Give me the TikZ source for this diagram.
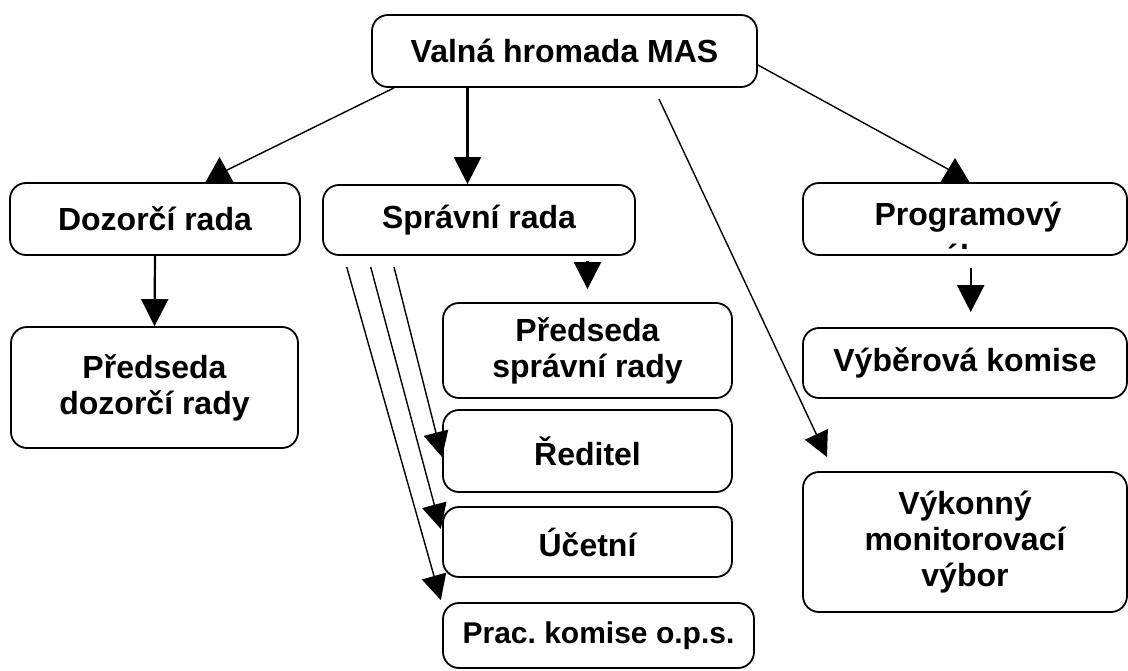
\documentclass[tikz,border=0pt]{standalone}
\usepackage{fontspec}
\setmainfont{Liberation Sans}
\usetikzlibrary{arrows.meta,calc}
\frenchspacing
\begin{document}
\begin{tikzpicture}[x=1pt,y=-1pt,
  box/.style={draw=black, line width=1.8pt, rounded corners=16pt, fill=white,
    align=center, inner sep=0pt, font=\fontsize{32}{36}\selectfont\bfseries},
  small/.style={font=\fontsize{30}{33}\selectfont\bfseries},
  thinline/.style={draw=black, line width=1.4pt},
  darr/.style={draw=black, line width=1.4pt, -{Triangle[length=25pt,width=25pt]}},
  varr/.style={draw=black, line width=2.2pt, -{Triangle[length=27pt,width=27pt]}},
  headfill/.style={fill=black}]
\fill[white] (0,0) rectangle (1128,671);
\useasboundingbox (0,0) rectangle (1128,671);

% boxes
\node[box, minimum width=385pt, minimum height=72pt] (valna) at (564.5,51) {Valná hromada MAS};
\node[box, minimum width=290pt, minimum height=72pt] (doz) at (155,219) {Dozorčí rada};
\node[box, minimum width=312pt, minimum height=70pt] (sprav) at (479,220) {Správní rada};
\node[box, minimum width=324pt, minimum height=72pt] (prog) at (965,219) {};
\begin{scope}
  \clip (806,186) rectangle (1124,249);
  \node[anchor=base, inner sep=0pt, font=\fontsize{32}{42}\selectfont\bfseries] (progtxt) at (968,226)
    {\parbox[t]{310pt}{\centering Programový\\výbor}};
\end{scope}
\node[box, minimum width=287pt, minimum height=121pt] (pdoz) at (154.5,387.5) {Předseda\\dozorčí rady};
\node[box, minimum width=289pt, minimum height=95pt] (psprav) at (587.5,350.5) {Předseda\\správní rady};
\node[box, minimum width=289pt, minimum height=82pt] (red) at (587.5,451) {Ředitel};
\node[box, minimum width=289pt, minimum height=70pt] (ucet) at (587.5,542) {Účetní};
\node[box, small, minimum width=311pt, minimum height=65pt] (prac) at (598.5,635.5) {Prac. komise o.p.s.};
\node[box, minimum width=324pt, minimum height=70pt] (vyber) at (965,363) {Výběrová komise};
\node[box, minimum width=324pt, minimum height=140pt] (vykon) at (965,542) {Výkonný\\monitorovací\\výbor};

% free ends
\coordinate (dozend) at (215,176);
\coordinate (progend) at (960.5,176);
\coordinate (vkstart) at (659,99);
\coordinate (vkend) at (827,457);
\coordinate (s1) at (394,267);
\coordinate (s2) at (370.7,267);
\coordinate (s3) at (346.7,267);

% Valna -> Dozorci
\draw[thinline] ($(valna.south)+(-170.5,0)$) -- (dozend);
\fill[headfill] (219.5,157) -- (205,183) -- (234,183) -- cycle;
% Valna -> Spravni
\draw[varr] ($(valna.south)+(-97,0)$) -- ($(sprav.north)+(-11.5,0)$);
% Valna -> Programovy
\draw[thinline] ($(valna.east)+(0,14)$) -- (progend);
\fill[headfill] (955,158) -- (940,183) -- (970,183) -- cycle;
% Valna -> Vykonny
\draw[darr] (vkstart) -- (vkend);
% Dozorci -> Predseda
\draw[varr] (doz.south) -- (pdoz.north);
% Spravni -> Predseda spravni rady
\draw[varr] ($(psprav.north)+(0,-41)$) -- ($(psprav.north)+(0,-13)$);
% Programovy -> Vyberova
\draw[varr] ($(prog.south)+(5.7,12)$) -- ($(vyber.north)+(5.7,-15)$);
% Spravni -> Reditel, Ucetni, Prac. komise
\draw[darr] (s1) -- ($(red.west)+(0,6)$);
\draw[darr] (s2) -- ($(ucet.west)+(-1.3,-13)$);
\draw[darr] (s3) -- ($(prac.north west)+(-1.3,-2)$);
\end{tikzpicture}
\end{document}
